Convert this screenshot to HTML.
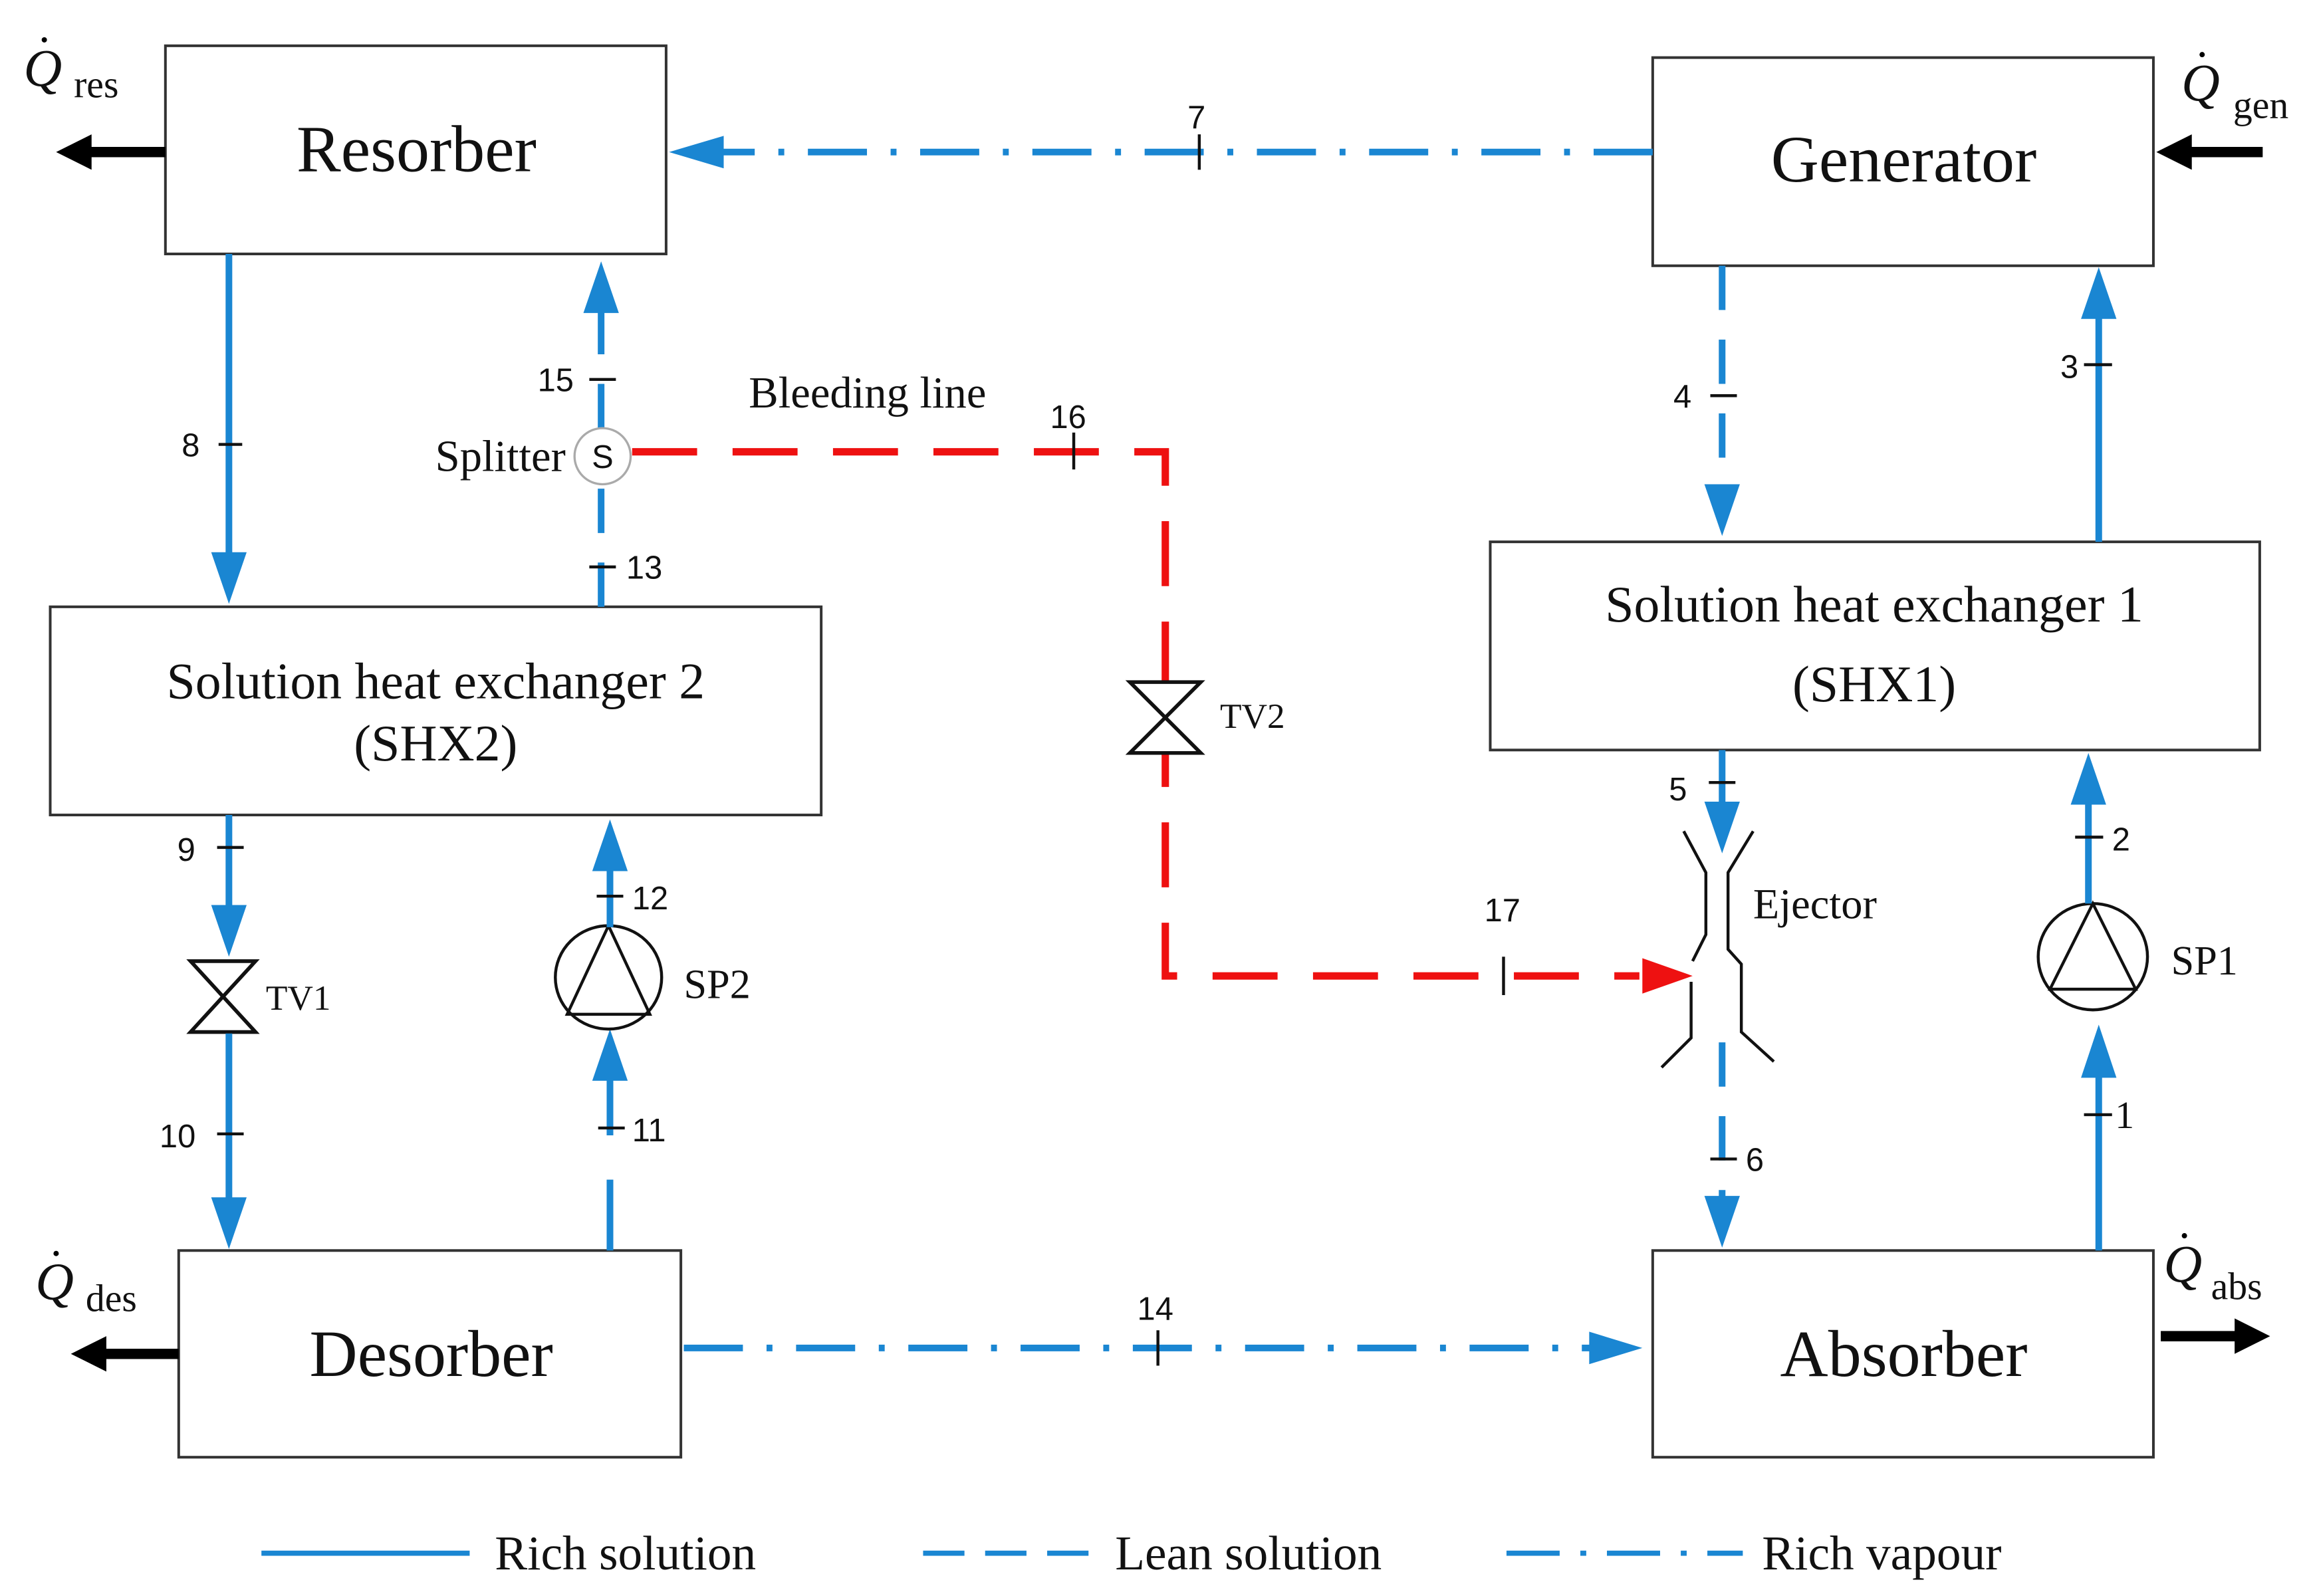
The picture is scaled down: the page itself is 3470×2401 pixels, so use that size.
<!DOCTYPE html>
<html><head><meta charset="utf-8"><style>
html,body{margin:0;padding:0;background:#fff;}
svg{display:block;}
.b{fill:#fff;stroke:#333;stroke-width:1.8;}
.t{font-family:"Liberation Serif",serif;fill:#111;}
.n{font-family:"Liberation Sans",sans-serif;fill:#111;font-size:22px;}
.bl{stroke:#1a86d2;stroke-width:4.5;fill:none;}
.dash{stroke-dasharray:30 20;}
.dd{stroke-dasharray:40 16 4 16;}
.rd{stroke:#ee1111;stroke-width:5;fill:none;stroke-dasharray:44 24;}
.ab{fill:#1a86d2;}
.k{stroke:#111;stroke-width:2;fill:none;}
</style></head><body>
<svg width="3470" height="2401" viewBox="0 0 1562 1081" preserveAspectRatio="none" xmlns="http://www.w3.org/2000/svg">
<!-- boxes -->
<rect class="b" x="112" y="31" width="339" height="141"/>
<text class="t" x="282" y="116" font-size="45" text-anchor="middle">Resorber</text>
<rect class="b" x="1119" y="39" width="339" height="141"/>
<text class="t" x="1289" y="123" font-size="45" text-anchor="middle">Generator</text>
<rect class="b" x="34" y="411" width="522" height="141"/>
<text class="t" x="295" y="473" font-size="35" text-anchor="middle">Solution heat exchanger 2</text>
<text class="t" x="295" y="515" font-size="35" text-anchor="middle">(SHX2)</text>
<rect class="b" x="1009" y="367" width="521" height="141"/>
<text class="t" x="1269" y="421" font-size="35" text-anchor="middle">Solution heat exchanger 1</text>
<text class="t" x="1269" y="475" font-size="35" text-anchor="middle">(SHX1)</text>
<rect class="b" x="121" y="847" width="340" height="140"/>
<text class="t" x="292" y="932" font-size="45" text-anchor="middle">Desorber</text>
<rect class="b" x="1119" y="847" width="339" height="140"/>
<text class="t" x="1289" y="932" font-size="45" text-anchor="middle">Absorber</text>

<!-- black heat arrows -->
<line x1="112" y1="103" x2="60" y2="103" stroke="#000" stroke-width="7"/><polygon points="38,103 62,91 62,115" fill="#000"/>
<line x1="1532" y1="103" x2="1482" y2="103" stroke="#000" stroke-width="7"/><polygon points="1460,103 1484,91 1484,115" fill="#000"/>
<line x1="121" y1="917" x2="70" y2="917" stroke="#000" stroke-width="7"/><polygon points="48,917 72,905 72,929" fill="#000"/>
<line x1="1463" y1="905" x2="1515" y2="905" stroke="#000" stroke-width="7"/><polygon points="1537,905 1513,893 1513,917" fill="#000"/>
<g class="t" font-style="italic" font-size="36">
<text x="16" y="58">Q</text><text x="1477" y="68">Q</text><text x="24" y="880">Q</text><text x="1465" y="868">Q</text></g>
<g fill="#000"><circle cx="30" cy="27" r="1.8"/><circle cx="1491" cy="37" r="1.8"/><circle cx="38" cy="849" r="1.8"/><circle cx="1479" cy="837" r="1.8"/></g>
<g class="t" font-size="26"><text x="50" y="66">res</text><text x="1512" y="80">gen</text><text x="58" y="888">des</text><text x="1497" y="880">abs</text></g>

<!-- line 7 -->
<line class="bl dd" x1="1119" y1="103" x2="488" y2="103"/>
<polygon class="ab" points="453,103 490,92 490,114"/>
<line class="k" x1="812" y1="91" x2="812" y2="115"/><text class="n" x="804" y="87">7</text>
<!-- line 14 -->
<line class="bl dd" x1="463" y1="913" x2="1078" y2="913"/>
<polygon class="ab" points="1112,913 1076,902 1076,924"/>
<line class="k" x1="784" y1="901" x2="784" y2="925"/><text class="n" x="770" y="894">14</text>

<!-- line 8 -->
<line class="bl" x1="155" y1="172" x2="155" y2="376"/>
<polygon class="ab" points="155,409 143,374 167,374"/>
<line class="k" x1="148" y1="301" x2="164" y2="301"/><text class="n" x="123" y="309">8</text>

<!-- 13/15 -->
<line class="bl dash" x1="407" y1="411" x2="407" y2="330"/>
<line class="bl dash" x1="407" y1="290" x2="407" y2="210"/>
<polygon class="ab" points="407,177 395,212 419,212"/>
<circle cx="408" cy="309" r="19" fill="#fff" stroke="#aaa" stroke-width="1.5"/>
<text class="n" x="408" y="317" font-size="19" text-anchor="middle">S</text>
<text class="t" x="383" y="319" font-size="30" text-anchor="end">Splitter</text>
<line class="k" x1="399" y1="257" x2="417" y2="257"/><text class="n" x="364" y="265">15</text>
<line class="k" x1="399" y1="384" x2="417" y2="384"/><text class="n" x="424" y="392">13</text>

<!-- bleeding line -->
<path class="rd" d="M428,306 H789 V661 H1110"/>
<polygon points="1146,661 1112,649 1112,673" fill="#ee1111"/>
<line class="k" x1="727" y1="293" x2="727" y2="318"/><text class="n" x="711" y="290">16</text>
<line class="k" x1="1018" y1="648" x2="1018" y2="674"/><text class="n" x="1005" y="624">17</text>
<text class="t" x="507" y="276" font-size="30">Bleeding line</text>
<polygon points="765,462 813,462 765,510 813,510" fill="#fff" stroke="#111" stroke-width="2.5"/>
<text class="t" x="826" y="493" font-size="24">TV2</text>

<!-- line 4 -->
<line class="bl dash" x1="1166" y1="180" x2="1166" y2="330"/>
<polygon class="ab" points="1166,363 1154,328 1178,328"/>
<line class="k" x1="1158" y1="268" x2="1176" y2="268"/><text class="n" x="1133" y="276">4</text>
<!-- line 3 -->
<line class="bl" x1="1421" y1="367" x2="1421" y2="215"/>
<polygon class="ab" points="1421,181 1409,216 1433,216"/>
<line class="k" x1="1411" y1="247" x2="1430" y2="247"/><text class="n" x="1395" y="256">3</text>
<!-- line 5 -->
<line class="bl" x1="1166" y1="508" x2="1166" y2="545"/>
<polygon class="ab" points="1166,578 1154,543 1178,543"/>
<line class="k" x1="1157" y1="530" x2="1175" y2="530"/><text class="n" x="1130" y="542">5</text>
<!-- ejector -->
<polyline class="k" points="1140,563 1155,591 1155,633 1146,651"/>
<polyline class="k" points="1145,665 1145,703 1125,723"/>
<polyline class="k" points="1187,563 1170,591 1170,643 1179,653 1179,699 1201,719"/>
<text class="t" x="1187" y="622" font-size="29">Ejector</text>
<!-- line 6 -->
<line class="bl dash" x1="1166" y1="706" x2="1166" y2="812"/>
<polygon class="ab" points="1166,845 1154,810 1178,810"/>
<line class="k" x1="1158" y1="785" x2="1176" y2="785"/><text class="n" x="1182" y="793">6</text>
<!-- SP1 -->
<ellipse cx="1417" cy="648" rx="37" ry="36" fill="none" stroke="#111" stroke-width="2"/>
<polygon points="1417,612 1388,670 1446,670" fill="none" stroke="#111" stroke-width="2"/>
<text class="t" x="1470" y="660" font-size="28">SP1</text>
<line class="bl" x1="1414" y1="612" x2="1414" y2="542"/>
<polygon class="ab" points="1414,510 1402,545 1426,545"/>
<line class="k" x1="1405" y1="567" x2="1424" y2="567"/><text class="n" x="1430" y="576">2</text>
<line class="bl" x1="1421" y1="847" x2="1421" y2="728"/>
<polygon class="ab" points="1421,694 1409,730 1433,730"/>
<line class="k" x1="1411" y1="755" x2="1430" y2="755"/><text class="t" x="1432" y="764" font-size="26">1</text>

<!-- 9/10 TV1 -->
<line class="bl" x1="155" y1="552" x2="155" y2="615"/>
<polygon class="ab" points="155,648 143,613 167,613"/>
<line class="k" x1="147" y1="574" x2="165" y2="574"/><text class="n" x="120" y="583">9</text>
<polygon points="129,651 173,651 129,699 173,699" fill="#fff" stroke="#111" stroke-width="2.5"/>
<text class="t" x="180" y="684" font-size="24">TV1</text>
<line class="bl" x1="155" y1="700" x2="155" y2="812"/>
<polygon class="ab" points="155,846 143,811 167,811"/>
<line class="k" x1="147" y1="768" x2="165" y2="768"/><text class="n" x="108" y="777">10</text>

<!-- 11/12 SP2 -->
<line class="bl dash" x1="413" y1="847" x2="413" y2="730" style="stroke-dasharray:48 30"/>
<polygon class="ab" points="413,697 401,732 425,732"/>
<line class="k" x1="405" y1="764" x2="423" y2="764"/><text class="n" x="428" y="773">11</text>
<ellipse cx="412" cy="662" rx="36" ry="35" fill="none" stroke="#111" stroke-width="2"/>
<polygon points="412,627 384,687 440,687" fill="none" stroke="#111" stroke-width="2"/>
<text class="t" x="463" y="676" font-size="28">SP2</text>
<line class="bl" x1="413" y1="628" x2="413" y2="590"/>
<polygon class="ab" points="413,555 401,590 425,590"/>
<line class="k" x1="404" y1="607" x2="422" y2="607"/><text class="n" x="428" y="616">12</text>

<!-- legend -->
<line class="bl" x1="177" y1="1052" x2="318" y2="1052" style="stroke-width:3.5"/>
<text class="t" x="335" y="1063" font-size="33">Rich solution</text>
<line class="bl" x1="625" y1="1052" x2="742" y2="1052" style="stroke-width:3.5;stroke-dasharray:28 14"/>
<text class="t" x="755" y="1063" font-size="33">Lean solution</text>
<line class="bl" x1="1020" y1="1052" x2="1180" y2="1052" style="stroke-width:3.5;stroke-dasharray:36 14 4 14"/>
<text class="t" x="1193" y="1063" font-size="33">Rich vapour</text>
</svg>
</body></html>
